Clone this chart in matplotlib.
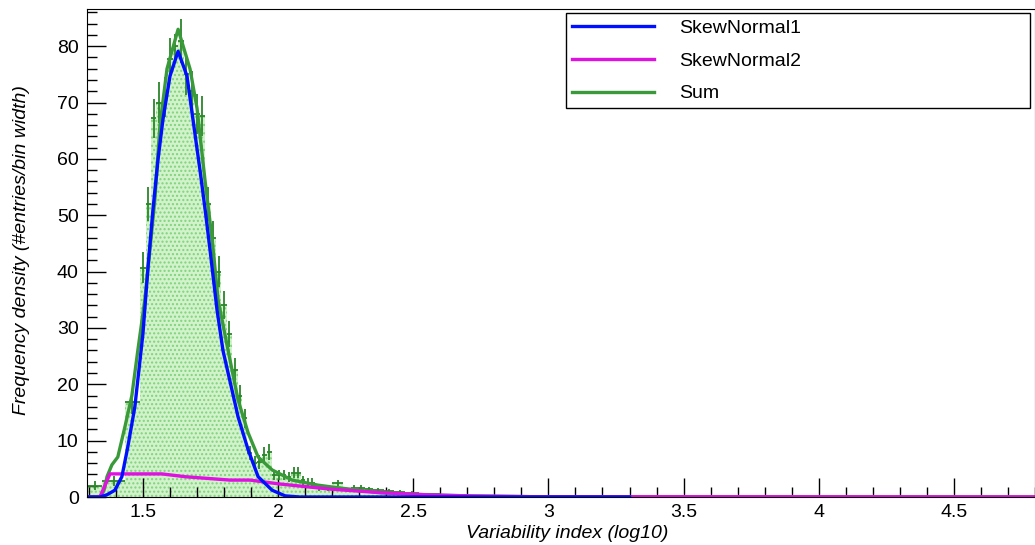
import matplotlib.pyplot as plt
import numpy as np
from matplotlib.lines import Line2D
from matplotlib.ticker import MultipleLocator, FormatStrFormatter

plt.rcParams['font.family'] = ['Liberation Sans', 'DejaVu Sans']

# histogram (variable bin widths), values are frequency densities
bin_edges = [1.293, 1.35, 1.433, 1.489, 1.51, 1.53, 1.55, 1.57, 1.59, 1.61, 1.63, 1.65,
             1.67, 1.69, 1.71, 1.73, 1.75, 1.77, 1.79, 1.81, 1.83, 1.85, 1.868, 1.886,
             1.904, 1.922, 1.94, 1.958, 1.976, 1.994, 2.012, 2.03, 2.048, 2.066, 2.084,
             2.1, 2.118, 2.136, 2.17, 2.2, 2.24, 2.27, 2.29, 2.32, 2.35, 2.39, 2.43,
             2.47, 2.52, 2.6, 2.7, 2.9, 3.3, 4.8]
hist_vals = [2.0, 2.8, 16.9, 40.7, 52.0, 67.2, 70.0, 71.0, 77.7, 80.0, 81.0, 75.0,
             72.0, 68.0, 67.6, 52.0, 46.0, 40.0, 34.0, 29.0, 22.6, 18.0, 14.0, 7.8,
             6.0, 6.2, 7.5, 8.0, 3.9, 3.9, 3.9, 3.6, 4.3, 4.3, 3.0,
             2.5, 2.5, 1.6, 1.6, 2.5, 1.2, 1.6, 1.6, 1.4, 1.2, 1.1, 0.9,
             0.7, 0.5, 0.35, 0.2, 0.1, 0.05]
hist_err = [0.8, 0.9, 2.2, 2.8, 3.0, 3.5, 3.6, 3.6, 3.8, 2.2, 3.9, 3.7,
            3.6, 3.5, 3.5, 3.1, 2.9, 2.7, 2.5, 2.3, 2.0, 1.8, 1.7, 1.3,
            1.2, 1.2, 1.3, 1.4, 0.9, 0.9, 0.9, 0.9, 1.0, 1.0, 0.8,
            0.8, 0.8, 0.5, 0.5, 0.6, 0.4, 0.5, 0.5, 0.4, 0.4, 0.35, 0.3,
            0.3, 0.2, 0.15, 0.1, 0.05, 0.03]

# fitted curves, points
sn1_x = [1.293, 1.341, 1.367, 1.396, 1.422, 1.444, 1.470, 1.500, 1.519, 1.537, 1.556,
         1.574, 1.600, 1.630, 1.663, 1.685, 1.711, 1.730, 1.748, 1.774, 1.796, 1.815,
         1.852, 1.889, 1.926, 1.978, 2.026, 2.080, 3.300]
sn1_y = [0.0, 0.0, 0.4, 1.2, 3.6, 8.9, 16.0, 29.0, 41.0, 51.0, 60.0,
         67.0, 74.7, 79.1, 74.7, 67.0, 58.0, 51.0, 43.9, 33.2, 26.0, 22.0,
         14.2, 8.4, 3.6, 1.2, 0.2, 0.0, 0.0]

sn2_x = [1.293, 1.341, 1.378, 1.570, 1.656, 1.822, 1.896, 2.007, 2.193, 2.378, 2.563,
         2.722, 2.933, 4.800]
sn2_y = [0.0, 0.0, 4.1, 4.1, 3.6, 3.0, 3.0, 2.3, 1.4, 0.77, 0.36,
         0.18, 0.06, 0.02]

sum_x = [1.293, 1.341, 1.356, 1.367, 1.385, 1.407, 1.433, 1.459, 1.481, 1.507, 1.526,
         1.544, 1.563, 1.589, 1.630, 1.674, 1.700, 1.730, 1.756, 1.778, 1.815, 1.852,
         1.889, 1.926, 1.978, 2.052, 2.148, 2.211, 2.378, 2.563, 2.722, 2.933, 4.800]
sum_y = [0.0, 0.0, 1.2, 3.6, 5.7, 7.1, 12.4, 18.0, 26.0, 35.0, 44.0,
         52.8, 66.0, 76.0, 83.0, 76.0, 69.0, 56.0, 45.7, 35.0, 26.0, 17.2,
         11.4, 7.1, 4.8, 3.0, 2.1, 1.7, 0.77, 0.36, 0.18, 0.06, 0.02]

fig = plt.figure(figsize=(10.35, 5.45), dpi=100)
ax = fig.add_axes([87 / 1035, 48 / 545, 948 / 1035, 488 / 545])

edges = np.array(bin_edges)
centers = 0.5 * (edges[:-1] + edges[1:])
halfw = 0.5 * np.diff(edges)

# dotted light green fill like ROOT's fill pattern
ax.stairs(hist_vals, edges, fill=True, facecolor='#d2f2cc', edgecolor='#7fd47a',
          hatch='....', linewidth=0)
ax.errorbar(centers, hist_vals, xerr=halfw, yerr=hist_err, fmt='none',
            ecolor='#2b862b', elinewidth=1.3, capsize=0)

# draw order as in the original: sum underneath, then the two components
ax.plot(sum_x, sum_y, color='#3a9a3a', lw=2.4)
ax.plot(sn2_x, sn2_y, color='#e010e0', lw=2.4)
ax.plot(sn1_x, sn1_y, color='#0010ff', lw=2.4)

ax.set_xlim(1.293, 4.8)
ax.set_ylim(0, 86.6)
ax.xaxis.set_major_locator(MultipleLocator(0.5))
ax.xaxis.set_minor_locator(MultipleLocator(0.1))
ax.xaxis.set_major_formatter(FormatStrFormatter('%g'))
ax.yaxis.set_major_locator(MultipleLocator(10))
ax.yaxis.set_minor_locator(MultipleLocator(2))
ax.tick_params(which='both', direction='in', top=False, right=False, labelsize=14)
ax.tick_params(which='major', length=14, width=1)
ax.tick_params(which='minor', length=7, width=1)
ax.tick_params(axis='x', pad=5)
ax.tick_params(axis='y', pad=6)

ax.set_xlabel('Variability index (log10)', fontsize=14, style='italic', ha='right')
ax.xaxis.set_label_coords(0.613, -0.058)
ax.set_ylabel('Frequency density (#entries/bin width)', fontsize=14, style='italic',
              ha='right')
ax.yaxis.set_label_coords(-0.06, 0.845)

legend_elements = [
    Line2D([0], [0], color='#0010ff', lw=2.4, label='SkewNormal1'),
    Line2D([0], [0], color='#e010e0', lw=2.4, label='SkewNormal2'),
    Line2D([0], [0], color='#3a9a3a', lw=2.4, label='Sum'),
]
leg = ax.legend(handles=legend_elements, loc='upper left', mode='expand',
                bbox_to_anchor=(566 / 1035, 1 - 14 / 545, 464 / 1035, 0.001),
                bbox_transform=fig.transFigure, fontsize=14, fancybox=False,
                framealpha=1, edgecolor='black', handlelength=4.2, handletextpad=1.3,
                labelspacing=0.78, borderpad=0.3, borderaxespad=0)
leg.get_frame().set_linewidth(1)

fig.savefig('out.png', dpi=100)
